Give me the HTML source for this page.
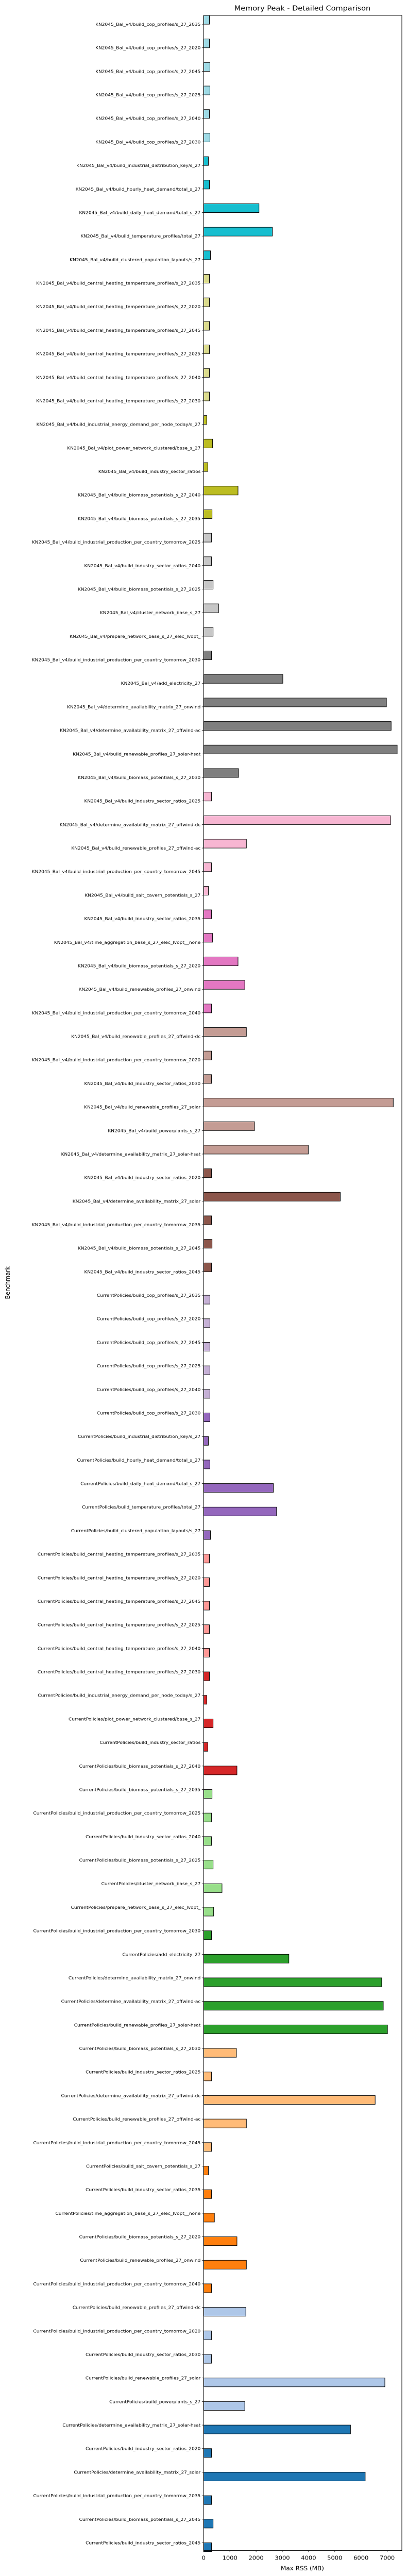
<!DOCTYPE html>
<html><head><meta charset="utf-8"><title>Memory Peak - Detailed Comparison</title>
<style>
html,body{margin:0;padding:0;background:#fff;width:100%;height:100%;overflow:hidden;}
#chart{display:block;position:fixed;left:0;top:0;width:100vw;height:100vh;font-family:"DejaVu Sans","Liberation Sans",sans-serif;}
</style></head>
<body>
<svg id="chart" viewBox="0 0 790 5390" preserveAspectRatio="none" xmlns="http://www.w3.org/2000/svg">
<text x="587" y="22" font-size="14.5" text-anchor="middle" fill="#000">Memory Peak - Detailed Comparison</text>
<text x="0" y="0" font-size="12" text-anchor="middle" fill="#000" transform="translate(19,2684) rotate(-90)">Benchmark</text>
<text x="587" y="5378" font-size="12" text-anchor="middle" fill="#000">Max RSS (MB)</text>
<g id="bars"></g>
<g id="yticks"></g>
<g id="xticks"></g>
<rect x="395.3" y="32.3" width="384.7" height="5304.4" fill="none" stroke="#000" stroke-width="1"/>
</svg>
<script>
const tasks = ["build_cop_profiles/s_27_2035","build_cop_profiles/s_27_2020","build_cop_profiles/s_27_2045","build_cop_profiles/s_27_2025","build_cop_profiles/s_27_2040","build_cop_profiles/s_27_2030","build_industrial_distribution_key/s_27","build_hourly_heat_demand/total_s_27","build_daily_heat_demand/total_s_27","build_temperature_profiles/total_27","build_clustered_population_layouts/s_27","build_central_heating_temperature_profiles/s_27_2035","build_central_heating_temperature_profiles/s_27_2020","build_central_heating_temperature_profiles/s_27_2045","build_central_heating_temperature_profiles/s_27_2025","build_central_heating_temperature_profiles/s_27_2040","build_central_heating_temperature_profiles/s_27_2030","build_industrial_energy_demand_per_node_today/s_27","plot_power_network_clustered/base_s_27","build_industry_sector_ratios","build_biomass_potentials_s_27_2040","build_biomass_potentials_s_27_2035","build_industrial_production_per_country_tomorrow_2025","build_industry_sector_ratios_2040","build_biomass_potentials_s_27_2025","cluster_network_base_s_27","prepare_network_base_s_27_elec_lvopt_","build_industrial_production_per_country_tomorrow_2030","add_electricity_27","determine_availability_matrix_27_onwind","determine_availability_matrix_27_offwind-ac","build_renewable_profiles_27_solar-hsat","build_biomass_potentials_s_27_2030","build_industry_sector_ratios_2025","determine_availability_matrix_27_offwind-dc","build_renewable_profiles_27_offwind-ac","build_industrial_production_per_country_tomorrow_2045","build_salt_cavern_potentials_s_27","build_industry_sector_ratios_2035","time_aggregation_base_s_27_elec_lvopt__none","build_biomass_potentials_s_27_2020","build_renewable_profiles_27_onwind","build_industrial_production_per_country_tomorrow_2040","build_renewable_profiles_27_offwind-dc","build_industrial_production_per_country_tomorrow_2020","build_industry_sector_ratios_2030","build_renewable_profiles_27_solar","build_powerplants_s_27","determine_availability_matrix_27_solar-hsat","build_industry_sector_ratios_2020","determine_availability_matrix_27_solar","build_industrial_production_per_country_tomorrow_2035","build_biomass_potentials_s_27_2045","build_industry_sector_ratios_2045"];
const scenarios = ["KN2045_Bal_v4", "CurrentPolicies"];
const knValues = [220,220,240,240,220,240,180,220,2110,2620,260,220,220,220,220,220,220,120,340,160,1310,320,300,300,360,570,360,300,3020,6970,7150,7380,1330,300,7130,1630,300,180,300,340,1310,1570,300,1630,300,300,7230,1940,3990,300,5210,300,320,300];
const cpValues = [240,240,240,240,240,240,180,240,2660,2780,260,220,220,220,220,220,220,120,360,160,1270,320,300,300,360,700,380,300,3250,6790,6850,7010,1250,300,6540,1630,300,180,300,410,1270,1630,300,1610,300,300,6910,1570,5600,300,6160,300,360,300];
const xTicks = [0,1000,2000,3000,4000,5000,6000,7000];

const NS = "http://www.w3.org/2000/svg";
const palette = ['#1f77b4','#aec7e8','#ff7f0e','#ffbb78','#2ca02c','#98df8a','#d62728','#ff9896','#9467bd','#c5b0d5','#8c564b','#c49c94','#e377c2','#f7b6d2','#7f7f7f','#c7c7c7','#bcbd22','#dbdb8d','#17becf','#9edae5'];
const X0 = 395.3, PX_PER = 0.0509;
function xScale(v){ return X0 + v * PX_PER; }
const Y0 = 50.7, STEP = 49.25, BAR_H = 18.4;
function yScale(i){ return Y0 + i * STEP; }

const labels = [], values = [], series = [];
scenarios.forEach((s, si) => {
  const vals = si === 0 ? knValues : cpValues;
  tasks.forEach((t, ti) => { labels.push(s + "/" + t); values.push(vals[ti]); series.push(si); });
});
const N = labels.length;
const barsG = document.getElementById('bars');
const yG = document.getElementById('yticks');
const xG = document.getElementById('xticks');

labels.forEach((lab, i) => {
  const y = yScale(i);
  const ci = Math.max(0, 19 - Math.floor(i * 20 / (N - 1)));
  const r = document.createElementNS(NS, 'rect');
  
  
  const top = series[i] === 0 ? y - BAR_H : y;
  r.setAttribute('x', xScale(0));
  r.setAttribute('y', top);
  r.setAttribute('width', Math.max(0, xScale(values[i]) - xScale(0)));
  r.setAttribute('height', BAR_H);
  r.setAttribute('fill', palette[ci]);
  r.setAttribute('stroke', '#000');
  r.setAttribute('stroke-width', '1');
  barsG.appendChild(r);

  const tk = document.createElementNS(NS, 'line');
  
  
  tk.setAttribute('x1', X0 - 3.5); tk.setAttribute('x2', X0);
  tk.setAttribute('y1', y); tk.setAttribute('y2', y);
  tk.setAttribute('stroke', '#000'); tk.setAttribute('stroke-width', '0.8');
  yG.appendChild(tk);

  const tx = document.createElementNS(NS, 'text');
  
  
  tx.setAttribute('x', X0 - 6);
  tx.setAttribute('y', y + 3.2);
  tx.setAttribute('font-size', '9');
  tx.setAttribute('text-anchor', 'end');
  tx.setAttribute('fill', '#000');
  tx.textContent = lab;
  yG.appendChild(tx);
});

xTicks.forEach(v => {
  const x = xScale(v);
  const tk = document.createElementNS(NS, 'line');
  
  
  tk.setAttribute('x1', x); tk.setAttribute('x2', x);
  tk.setAttribute('y1', 5336.7); tk.setAttribute('y2', 5340.2);
  tk.setAttribute('stroke', '#000'); tk.setAttribute('stroke-width', '0.8');
  xG.appendChild(tk);
  const tx = document.createElementNS(NS, 'text');
  
  
  tx.setAttribute('x', x);
  tx.setAttribute('y', 5356);
  tx.setAttribute('font-size', '11.5');
  tx.setAttribute('text-anchor', 'middle');
  tx.setAttribute('fill', '#000');
  tx.textContent = String(v);
  xG.appendChild(tx);
});
</script>
</body></html>
